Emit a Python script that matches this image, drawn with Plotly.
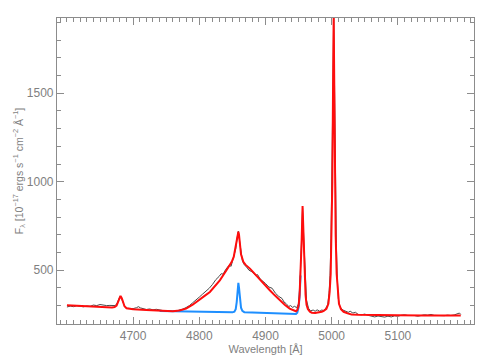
import plotly.graph_objects as go

# Observed spectrum (gray)
obs_wave = [4600, 4605, 4610, 4615, 4620, 4625, 4630, 4635, 4640, 4645, 4650, 4655, 4660, 4665,
            4670, 4673, 4676, 4678, 4680, 4682, 4684, 4687, 4690, 4695, 4700, 4705, 4708, 4711,
            4715, 4720, 4725, 4730, 4735, 4740, 4745, 4750, 4755, 4760, 4765, 4770, 4775, 4780,
            4785, 4790, 4795, 4800, 4805, 4810, 4815, 4820, 4825, 4830, 4833, 4836, 4840, 4845,
            4848, 4850, 4853, 4855, 4857, 4859, 4861, 4863, 4865, 4868, 4871, 4875, 4880, 4885,
            4888, 4892, 4896, 4900, 4905, 4910, 4915, 4920, 4925, 4928, 4931, 4935, 4938, 4941,
            4944, 4947, 4950, 4952, 4954, 4956, 4958, 4960, 4962, 4965, 4968, 4972, 4975, 4978,
            4982, 4985, 4988, 4991, 4994, 4996, 4997.5, 4999, 5000.5, 5002, 5003, 5004, 5005.5,
            5007, 5008.5, 5010, 5012, 5014, 5017, 5020, 5025, 5028, 5032, 5036, 5040, 5045, 5050,
            5055, 5060, 5065, 5070, 5075, 5080, 5085, 5090, 5095, 5100, 5105, 5110, 5115, 5120,
            5125, 5130, 5135, 5140, 5145, 5150, 5155, 5160, 5165, 5170, 5175, 5180, 5185, 5190,
            5193, 5195]
obs_flux = [292, 297, 294, 299, 296, 293, 298, 296, 303, 300, 306, 302, 300, 301,
            298, 300, 315, 335, 352, 345, 320, 297, 285, 282, 283, 288, 294, 287,
            281, 278, 281, 276, 279, 274, 272, 269, 266, 267, 270, 274, 280, 289,
            300, 316, 330, 348, 365, 380, 398, 420, 447, 465, 480, 478, 505, 528,
            522, 550, 585, 620, 680, 720, 660, 600, 555, 530, 520, 500, 490, 470,
            475, 450, 440, 425, 405, 398, 370, 352, 340, 320, 312, 295, 300, 290,
            296, 288, 310, 420, 620, 850, 660, 440, 330, 285, 270, 275, 268, 276,
            268, 275, 272, 285, 305, 370, 470, 680, 1050, 1550, 1960, 1600, 1050,
            650, 450, 340, 300, 285, 275, 270, 262, 268, 258, 262, 250, 248, 252,
            245, 240, 236, 241, 238, 235, 240, 236, 242, 240, 245, 248, 244, 246,
            244, 240, 243, 248, 246, 250, 245, 244, 247, 243, 246, 244, 247, 252,
            258, 250]

# Total model fit (red)
fit_wave = [4600, 4620, 4640, 4660, 4668, 4672, 4675, 4677, 4679, 4681, 4683, 4685, 4687, 4690,
            4700, 4720, 4740, 4760, 4770, 4780, 4790, 4800, 4808, 4816, 4824, 4831, 4841, 4849,
            4852, 4854, 4856, 4858, 4859, 4860, 4861.5, 4863, 4866.5, 4870, 4876.5, 4884, 4891.5,
            4899, 4906.5, 4914, 4921.5, 4929, 4936.5, 4942, 4946, 4948, 4950, 4951.5, 4953,
            4954.5, 4956, 4957.5, 4959, 4960.5, 4962, 4964, 4967, 4970, 4975, 4980, 4985, 4988,
            4992, 4995, 4997, 4998.5, 5000, 5001, 5002, 5003, 5004, 5005, 5006, 5007.5, 5009,
            5011, 5014, 5018, 5024, 5030, 5040, 5060, 5080, 5100, 5140, 5195]
fit_flux = [302, 298, 294, 290, 289, 292, 300, 318, 342, 355, 340, 312, 296, 285,
            280, 275, 270, 268, 272, 283, 305, 330, 355, 377, 410, 443, 500, 547,
            575, 613, 660, 705, 717, 700, 632, 590, 547, 530, 509, 478, 443,
            413, 387, 358, 330, 305, 283, 272, 268, 275, 300, 360, 480,
            650, 862, 650, 480, 360, 305, 280, 266, 260, 258, 260, 265, 270,
            282, 310, 380, 480, 700, 1000, 1500, 1935, 1500, 1000, 700, 480, 380,
            310, 280, 265, 256, 250, 248, 246, 245, 245, 244, 244]

# Continuum + narrow-line component (blue)
narrow_wave = [4740, 4760, 4780, 4800, 4820, 4840, 4850, 4853, 4855, 4856.5, 4858, 4859,
               4860, 4861.5, 4863, 4865, 4868, 4880, 4900, 4920, 4940, 4946, 4948, 4950,
               4951.5, 4953]
narrow_flux = [270, 268, 266, 264, 263, 262, 262, 266, 280, 320, 395, 428,
               400, 330, 288, 270, 263, 261, 258, 255, 252, 253, 260, 290,
               350, 470]

gray_txt = "#7f7f7f"
axis_col = "#8c8c8c"

fig = go.Figure()
fig.add_trace(go.Scatter(x=narrow_wave, y=narrow_flux, mode="lines",
                         line=dict(color="#1e8fff", width=2), showlegend=False))
fig.add_trace(go.Scatter(x=obs_wave, y=obs_flux, mode="lines",
                         line=dict(color="#4a4a4a", width=1), showlegend=False))
fig.add_trace(go.Scatter(x=fit_wave, y=fit_flux, mode="lines",
                         line=dict(color="#ff0d0d", width=2), showlegend=False))

# page body has an 8px margin, so the figure is sized/margined to compensate
fig.update_layout(
    width=483, height=354,
    margin=dict(l=49, r=17, t=10, b=38),
    paper_bgcolor="white", plot_bgcolor="white",
    font=dict(family="Liberation Sans, Arial, sans-serif", size=11, color=gray_txt),
    showlegend=False,
)
fig.update_xaxes(
    range=[4585, 5215], showgrid=False, zeroline=False, automargin=False,
    showline=True, linecolor=axis_col, linewidth=1.2, mirror="allticks",
    ticks="inside", ticklen=7, tickcolor=axis_col, tickwidth=1,
    tickvals=[4700, 4800, 4900, 5000, 5100],
    minor=dict(ticks="inside", ticklen=4, tickcolor=axis_col, dtick=10, tick0=4600, showgrid=False),
    title=dict(text="Wavelength [Å]", font=dict(size=11, color=gray_txt), standoff=3),
    tickfont=dict(size=12, color=gray_txt),
)
fig.update_yaxes(
    range=[196, 1925], showgrid=False, zeroline=False, automargin=False,
    showline=True, linecolor=axis_col, linewidth=1.2, mirror="allticks",
    ticks="inside", ticklen=7, tickcolor=axis_col, tickwidth=1,
    tickvals=[500, 1000, 1500],
    minor=dict(ticks="inside", ticklen=4, tickcolor=axis_col, dtick=100, tick0=0, showgrid=False),
    title=dict(text="F<sub>λ</sub> [10<sup>−17</sup> ergs s<sup>−1</sup> cm<sup>−2</sup> Å<sup>−1</sup>]",
               font=dict(size=10.5, color=gray_txt), standoff=0),
    tickfont=dict(size=12, color=gray_txt),
)

fig.write_html("out.html")
